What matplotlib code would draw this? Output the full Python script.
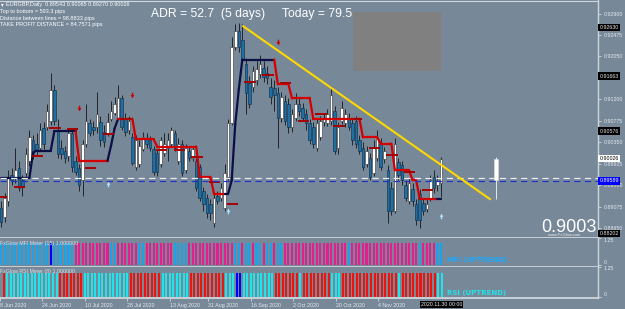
import matplotlib
matplotlib.use('Agg')
import matplotlib.pyplot as plt
from matplotlib.collections import LineCollection
from matplotlib.patches import Rectangle
import matplotlib.transforms as mtrans
import numpy as np

# ---------------- data ----------------
opens = [0.8906, 0.8887, 0.8920, 0.8970, 0.8964, 0.8984, 0.8960, 0.8974, 0.8999, 0.9039,
         0.9033, 0.9025, 0.9063, 0.9065, 0.9078, 0.9138, 0.9059, 0.9025, 0.9019, 0.9009,
         0.9053, 0.8999, 0.8984, 0.8960, 0.9033, 0.9073, 0.9065, 0.9065, 0.9075, 0.9055,
         0.9053, 0.9082, 0.9094, 0.9084, 0.9122, 0.9082, 0.9059, 0.9045, 0.8986, 0.8993,
         0.9023, 0.9043, 0.9039, 0.9023, 0.9015, 0.8993, 0.9015, 0.9025, 0.9033, 0.9053,
         0.8999, 0.9033, 0.8980, 0.9019, 0.9005, 0.8999, 0.8986, 0.8940, 0.8926, 0.8914,
         0.8875, 0.8930, 0.8926, 0.8906, 0.8966, 0.9073, 0.9223, 0.9256, 0.9237, 0.9191,
         0.9152, 0.9144, 0.9158, 0.9171, 0.9183, 0.9173, 0.9144, 0.9142, 0.9132, 0.9084,
         0.9118, 0.9112, 0.9065, 0.9084, 0.9112, 0.9104, 0.9092, 0.9073, 0.9065, 0.9025,
         0.9045, 0.9075, 0.9073, 0.9078, 0.9098, 0.9025, 0.9078, 0.9073, 0.9084, 0.9073,
         0.9078, 0.9039, 0.9025, 0.8993, 0.9005, 0.8974, 0.9005, 0.9033, 0.9003, 0.8980,
         0.8946, 0.8900, 0.8996, 0.8990, 0.8950, 0.8920, 0.8944, 0.8914, 0.8934, 0.8916,
         0.8904, 0.8926, 0.8966, 0.8950, 0.89543]
highs = [0.8920, 0.8936, 0.8980, 0.8984, 0.9025, 0.8999, 0.8970, 0.9025, 0.9059, 0.9049,
         0.9053, 0.9073, 0.9075, 0.9112, 0.9173, 0.9148, 0.9082, 0.9039, 0.9029, 0.9063,
         0.9059, 0.9009, 0.8993, 0.9039, 0.9112, 0.9082, 0.9078, 0.9134, 0.9088, 0.9069,
         0.9094, 0.9118, 0.9124, 0.9148, 0.9128, 0.9094, 0.9088, 0.9053, 0.9049, 0.9039,
         0.9055, 0.9053, 0.9047, 0.9029, 0.9023, 0.9045, 0.9053, 0.9053, 0.9065, 0.9059,
         0.9043, 0.9039, 0.9033, 0.9027, 0.9029, 0.9005, 0.8993, 0.8948, 0.8934, 0.8924,
         0.8934, 0.8940, 0.8954, 0.8993, 0.9082, 0.9243, 0.9270, 0.9272, 0.9270, 0.9203,
         0.9167, 0.9187, 0.9197, 0.9207, 0.9197, 0.9187, 0.9162, 0.9158, 0.9144, 0.9134,
         0.9128, 0.9122, 0.9102, 0.9132, 0.9122, 0.9114, 0.9102, 0.9082, 0.9075, 0.9082,
         0.9088, 0.9094, 0.9102, 0.9144, 0.9108, 0.9075, 0.9118, 0.9102, 0.9094, 0.9082,
         0.9088, 0.9049, 0.9035, 0.9029, 0.9015, 0.9039, 0.9059, 0.9043, 0.9027, 0.8990,
         0.8956, 0.9043, 0.9005, 0.8999, 0.8960, 0.8964, 0.8954, 0.8924, 0.8944, 0.8924,
         0.8924, 0.8970, 0.8980, 0.8970, 0.90065]
lows = [0.8867, 0.8877, 0.8910, 0.8950, 0.8954, 0.8940, 0.8930, 0.8964, 0.8989, 0.9003,
        0.9009, 0.9019, 0.9023, 0.9059, 0.9069, 0.9069, 0.9005, 0.9003, 0.8995, 0.8999,
        0.8976, 0.8970, 0.8940, 0.8930, 0.9027, 0.9047, 0.9049, 0.9053, 0.9029, 0.9027,
        0.9047, 0.9078, 0.9090, 0.9082, 0.9059, 0.9047, 0.9051, 0.8990, 0.8980, 0.8987,
        0.9019, 0.9025, 0.9019, 0.8970, 0.8968, 0.8987, 0.9009, 0.8999, 0.9027, 0.9019,
        0.8993, 0.8968, 0.8974, 0.8999, 0.8999, 0.8940, 0.8920, 0.8900, 0.8885, 0.8881,
        0.8867, 0.8914, 0.8920, 0.8900, 0.8960, 0.9069, 0.9217, 0.9213, 0.9197, 0.9092,
        0.9104, 0.9134, 0.9148, 0.9162, 0.9154, 0.9150, 0.9112, 0.9098, 0.9025, 0.9075,
        0.9069, 0.9053, 0.9055, 0.9078, 0.9088, 0.9078, 0.9059, 0.9033, 0.9025, 0.9019,
        0.9039, 0.9067, 0.9067, 0.9069, 0.9013, 0.9013, 0.9071, 0.9065, 0.9059, 0.9031,
        0.9025, 0.9013, 0.8980, 0.8986, 0.8960, 0.8968, 0.8999, 0.8980, 0.8995, 0.8875,
        0.8891, 0.8895, 0.8960, 0.8950, 0.8920, 0.8914, 0.8910, 0.8871, 0.8865, 0.8891,
        0.8897, 0.8920, 0.8936, 0.8940, 0.89270]
closes = [0.8877, 0.8926, 0.8964, 0.8960, 0.8980, 0.8946, 0.8948, 0.9013, 0.9045, 0.9013,
          0.9019, 0.9059, 0.9033, 0.9098, 0.9138, 0.9078, 0.9013, 0.9013, 0.9005, 0.9053,
          0.8986, 0.8976, 0.8950, 0.9033, 0.9078, 0.9053, 0.9059, 0.9092, 0.9039, 0.9035,
          0.9075, 0.9098, 0.9112, 0.9122, 0.9065, 0.9055, 0.9078, 0.8995, 0.9039, 0.9029,
          0.9045, 0.9033, 0.9025, 0.8976, 0.8976, 0.9039, 0.9033, 0.9039, 0.9059, 0.9025,
          0.9033, 0.8974, 0.9025, 0.9005, 0.9023, 0.8946, 0.8926, 0.8914, 0.8895, 0.8895,
          0.8926, 0.8920, 0.8946, 0.8974, 0.9073, 0.9223, 0.9256, 0.9223, 0.9201, 0.9132,
          0.9112, 0.9177, 0.9181, 0.9191, 0.9164, 0.9162, 0.9124, 0.9128, 0.9084, 0.9124,
          0.9078, 0.9065, 0.9092, 0.9112, 0.9098, 0.9084, 0.9073, 0.9039, 0.9033, 0.9073,
          0.9078, 0.9084, 0.9092, 0.9128, 0.9019, 0.9065, 0.9104, 0.9092, 0.9065, 0.9039,
          0.9033, 0.9019, 0.8986, 0.9019, 0.8966, 0.9025, 0.9045, 0.8986, 0.9019, 0.8900,
          0.8900, 0.9033, 0.8970, 0.8960, 0.8926, 0.8954, 0.8920, 0.8881, 0.8881, 0.8900,
          0.8914, 0.8960, 0.8946, 0.8960, 0.90026]

# trailing-stop step line and its state (U = uptrend / navy, D = downtrend / red)
trail = [0.8965, 0.8965, 0.8965, 0.8965, 0.8965, 0.8965, 0.8965, 0.8965, 0.8965, 0.9015,
         0.9019, 0.9019, 0.9019, 0.9019, 0.9019, 0.9057, 0.9057, 0.9057, 0.9057, 0.9057,
         0.9057, 0.9057, 0.8999, 0.8999, 0.8999, 0.8999, 0.8999, 0.8999, 0.8999, 0.8999,
         0.8999, 0.9029, 0.9063, 0.9082, 0.9082, 0.9082, 0.9082, 0.9082, 0.9041, 0.9041,
         0.9041, 0.9041, 0.9041, 0.9041, 0.9027, 0.9027, 0.9027, 0.9027, 0.9027, 0.9027,
         0.9027, 0.9027, 0.9027, 0.9027, 0.9027, 0.9027, 0.8967, 0.8967, 0.8967, 0.8967,
         0.8934, 0.8934, 0.8934, 0.8934, 0.8934, 0.8960, 0.9071, 0.9140, 0.9199, 0.9199,
         0.9199, 0.9199, 0.9199, 0.9199, 0.9199, 0.9199, 0.9199, 0.9199, 0.9150, 0.9150,
         0.9150, 0.9150, 0.9122, 0.9122, 0.9122, 0.9122, 0.9122, 0.9122, 0.9082, 0.9082,
         0.9082, 0.9082, 0.9082, 0.9082, 0.9082, 0.9082, 0.9082, 0.9082, 0.9082, 0.9082,
         0.9082, 0.9082, 0.9045, 0.9045, 0.9045, 0.9045, 0.9045, 0.9033, 0.9033, 0.9033,
         0.9033, 0.8980, 0.8980, 0.8980, 0.8980, 0.8980, 0.8960, 0.8960, 0.8924, 0.8924,
         0.8924, 0.8924, 0.8924, 0.8924, 0.8924]
trend = ("UUUUUUUUUUUUUUUUUUUUUU" "DDDDDDDDD" "UUU"
         "DDDDDDDDDDDDDDDDDDDDDDDDDDDDDD" "UUUUUUUUUUUUUU"
         "DDDDDDDDDDDDDDDDDDDDDDDDDDDDDDDDDDDDDDDDDDDDDD" "U")

# weekly level segments (start bar, level)
week_bars = [-1, 4, 9, 14, 19, 24, 29, 34, 44, 49, 54, 59, 64, 69, 74, 79, 84, 89, 94, 99,
             104, 109, 114, 119]
week_levels = [0.8928, 0.8948, 0.9009, 0.9063, 0.9061, 0.8984, 0.9051, 0.9082, 0.9021, 0.9021,
               0.9007, 0.8956, 0.8914, 0.9154, 0.9169, 0.9152, 0.9078, 0.9092, 0.9067, 0.9082,
               0.9025, 0.9011, 0.8976, 0.8942]

# signal arrows
down_bars = [22, 37, 78]
down_prices = [0.9104, 0.9128, 0.9233]
up_bars = [30, 64, 124]
up_prices = [0.8952, 0.8899, 0.8889]

# horizontal levels
white_level = 0.8964
blue_level = 0.89589

# trend line
tl_bars = [68, 138]
tl_prices = [0.9266, 0.8922]

# projected daily candle
proj_bar = 139.5
proj_ohlc = [0.8961, 0.9006, 0.8924, 0.9003]

# grey box
box_bars = [99.2, 124.0]
box_prices = [0.9177, 0.9292]

# meters: C = uptrend colour, M/R = downtrend colour, B = strong
mfi_state = ("CCCCCCCCCCCCCC" "B" "CCCCCC" "MMMMMMMMMM" "CC" "MMMMMM" "CC" "MMMMMMMM" "CCCC"
             "MMMMMMMMMMMMM" "CC" "M" "CC" "M" "CC" "M" "CC" "M" "CC"
             "MMMMMMMMMMMMMMMMMM" "C" "MMMMMMMMMMMMMMMMMMM" "C" "MMMM" "CC")
rsi_state = ("R" "CCCCCCCCCCCCCCC" "RRRRRRR" "CCCCCCCCCCCCC" "RRRRRRRRR" "CCCCCCCC"
             "RRRRRRRRRR" "CCC" "BB" "CCCCCCCCC" "RRRRRRR" "C" "RRRRRRRR" "CCC"
             "RRRRRRRRRRRRRRRR" "C" "RRRRRRRRRR" "CC")
meter_value = 1.0

price_ticks = [0.92900, 0.92475, 0.92050, 0.91200, 0.90775, 0.90350, 0.89925,
               0.89500, 0.89075, 0.88650]
date_labels = ['8 Jun 2020', '24 Jun 2020', '10 Jul 2020', '28 Jul 2020', '13 Aug 2020',
               '31 Aug 2020', '16 Sep 2020', '2 Oct 2020', '20 Oct 2020', '4 Nov 2020']
date_bars = [-1, 11, 23, 35, 47, 58, 70, 82, 94, 106]
black_tags = [0.92630, 0.91663, 0.90576]
bottom_tag = '0.88202'
current_tag = 0.90026

# ---------------- figure ----------------
BG = '#778899'
W, H = 625.0, 309.0
fig = plt.figure(figsize=(6.25, 3.09), dpi=100, facecolor=BG)


def box(x0, y0, x1, y1):
    return [x0 / W, 1 - y1 / H, (x1 - x0) / W, (y1 - y0) / H]


ax = fig.add_axes(box(0, 0.5, 597.5, 237.5))
axm = fig.add_axes(box(0, 237.5, 597.5, 266.5))
axr = fig.add_axes(box(0, 266.5, 597.5, 298.0))
XL = (-0.3, 168.1)
SEP = '#cfd5db'
for a in (ax, axm, axr):
    a.set_facecolor(BG)
    a.set_xlim(*XL)
    for s in ('left', 'top'):
        a.spines[s].set_visible(False)
    a.spines['right'].set_color(SEP)
    a.spines['right'].set_linewidth(1.0)
    a.spines['bottom'].set_color(SEP)
    a.spines['bottom'].set_linewidth(1.3)
ax.spines['top'].set_visible(True)
ax.spines['top'].set_color(SEP)
ax.spines['top'].set_linewidth(0.8)

SMALL = 'Liberation Sans'
TICKC = '#e6e9ec'

# ---- main panel ----
n = len(closes)
x = np.arange(n)
o = np.array(opens); h = np.array(highs); l = np.array(lows); c = np.array(closes)
ax.set_ylim(0.88472, 0.93157)
ax.vlines(x, l, h, color='#151515', lw=0.6, zorder=2)
bull = c >= o
ax.bar(x, np.maximum(np.abs(c - o), 0.00004), bottom=np.minimum(o, c), width=0.72,
       color=np.where(bull, '#ffffff', '#1f6fa3'),
       edgecolor=np.where(bull, '#303030', '#0b2a44'), linewidth=0.4, zorder=2.5)

# projected candle
po, ph, pl, pc = proj_ohlc
ax.vlines(proj_bar, pl, ph, color='#e8e8e8', lw=0.7, zorder=2)
ax.bar(proj_bar, pc - po, bottom=po, width=1.1, color='#ffffff', edgecolor='#e0e0e0',
       linewidth=0.4, zorder=2.5)

# trailing line
pts = np.column_stack([x, trail])
segs = [pts[i:i + 2] for i in range(n - 1)]
cols = ['#0a0f45' if trend[i + 1] == 'U' else '#d40000' for i in range(n - 1)]
ax.add_collection(LineCollection(segs, colors=cols, linewidths=1.6, zorder=3,
                                 capstyle='round', joinstyle='round'))

# weekly levels
for b, v in zip(week_bars, week_levels):
    ax.hlines(v, b - 0.4, b + 2.8, color='#a80000', lw=1.4, zorder=3.2)

# dashed levels
ax.axhline(white_level, color='#e8ecf0', lw=0.9, dashes=(5, 3.5), zorder=4)
ax.axhline(blue_level, color='#2236c8', lw=0.9, dashes=(5, 3.5), zorder=4)

# trend line
ax.plot(tl_bars, tl_prices, color='#ffd800', lw=1.5, zorder=4.5, solid_capstyle='butt')

# grey box
ax.add_patch(Rectangle((box_bars[0], box_prices[0]), box_bars[1] - box_bars[0],
                       box_prices[1] - box_prices[0], facecolor='#808080',
                       edgecolor='none', zorder=1.5))

# arrows
down_m = [(-0.25, 1), (0.25, 1), (0.25, 0.15), (0.7, 0.15), (0, -1), (-0.7, 0.15), (-0.25, 0.15)]
up_m = [(vx, -vy) for vx, vy in down_m]
ax.scatter(down_bars, down_prices, marker=down_m, s=16, color='#c80000', zorder=5,
           linewidths=0)
ax.scatter(up_bars, up_prices, marker=up_m, s=16, color='#aee3ff', zorder=5, linewidths=0)

# right axis
ax.yaxis.tick_right()
ax.set_yticks(price_ticks)
ax.set_yticklabels([f'{v:.5f}' for v in price_ticks], fontfamily=SMALL)
ax.tick_params(axis='y', labelsize=3.8, labelcolor=TICKC, color=TICKC, length=2.2,
               width=0.5, pad=2.5)
ax.set_xticks([])

tr = mtrans.blended_transform_factory(ax.transAxes, ax.transData)
for v in black_tags:
    ax.text(1.003, v, f'{v:.5f}', transform=tr, fontsize=3.8, family=SMALL, color='#e8e8e8',
            va='center', ha='left', zorder=10, clip_on=False,
            bbox=dict(facecolor='#000000', edgecolor='none', pad=0.8))
ax.text(1.003, current_tag, f'{current_tag:.5f}', transform=tr, fontsize=3.8, family=SMALL,
        color='#000000', va='center', ha='left', zorder=10, clip_on=False,
        bbox=dict(facecolor='#ffffff', edgecolor='none', pad=0.8))
ax.text(1.003, blue_level, f'{blue_level:.5f}', transform=tr, fontsize=3.8, family=SMALL,
        color='#ffffff', va='center', ha='left', zorder=10, clip_on=False,
        bbox=dict(facecolor='#0000ff', edgecolor='none', pad=0.8))
ax.text(1.003, 0.017, bottom_tag, transform=ax.transAxes, fontsize=3.8, family=SMALL,
        color='#e8e8e8', va='center', ha='left', zorder=10, clip_on=False,
        bbox=dict(facecolor='#000000', edgecolor='none', pad=0.8))

# header texts
fig.text(1 / W, 1 - 4.5 / H, '\u25be', fontsize=4, color='white', va='center', ha='left',
         family='DejaVu Sans')
fig.text(5.5 / W, 1 - 4.8 / H, 'EURGBP,Daily  0.89543 0.90065 0.89270 0.90026', fontsize=4.0,
         color='white', va='center', ha='left', family=SMALL)
fig.text(0.5 / W, 1 - 11.6 / H, 'Top to bottom = 593.3 pips', fontsize=4.0, color='white',
         va='center', ha='left', family=SMALL)
fig.text(0.5 / W, 1 - 18.2 / H, 'Distance between lines = 98.8833 pips', fontsize=4.0,
         color='white', va='center', ha='left', family=SMALL)
fig.text(0.5 / W, 1 - 24.8 / H, 'TAKE PROFIT DISTANCE = 84.7571 pips', fontsize=4.0,
         color='white', va='center', ha='left', family=SMALL)
fig.text(151 / W, 1 - 13.5 / H, 'ADR = 52.7  (5 days)', fontsize=8.7, color='white',
         va='center', ha='left', family=SMALL)
fig.text(282 / W, 1 - 13.5 / H, 'Today = 79.5', fontsize=8.7, color='white',
         va='center', ha='left', family=SMALL)
fig.text(597 / W, 1 - 231.5 / H, '0.9003', fontsize=13, color='white', va='baseline',
         ha='right', family=SMALL, zorder=6)
fig.text(548 / W, 1 - 234.8 / H, 'www.FxGlow.com', fontsize=3.0, color='#f0f0f0',
         va='center', ha='left', family=SMALL)

# ---- meters ----
mcol = {'C': '#1ea2e6', 'M': '#e0208c', 'B': '#0000ff'}
rcol = {'C': '#22e2ea', 'R': '#e8160f', 'B': '#0000ff'}
vals = [meter_value] * n
axm.bar(x, vals, width=0.58, color=[mcol[s] for s in mfi_state], linewidth=0, zorder=2)
axr.bar(x, vals, width=0.58, color=[rcol[s] for s in rsi_state], linewidth=0, zorder=2)
axm.set_ylim(-0.05, 1.25)
axr.set_ylim(-0.04, 1.25)
for a in (axm, axr):
    a.yaxis.tick_right()
    a.set_yticks([0, 1.25])
    a.set_yticklabels(['0', '1.25'], fontfamily=SMALL)
    a.tick_params(axis='y', labelsize=3.8, labelcolor=TICKC, color=TICKC, length=2.2,
                  width=0.5, pad=2.5)
    for lab in a.get_yticklabels():
        lab.set_va('top' if lab.get_text() == '1.25' else 'bottom')
axm.set_xticks([])
axm.text(0.0, 0.8, 'FxGlow MFI Meter (15) 1.000000', transform=axm.transAxes,
         fontsize=3.8, family=SMALL, color='#dde2e6', va='center', ha='left', zorder=5)
axr.text(0.0, 0.84, 'FxGlow RSI Meter (8) 1.000000', transform=axr.transAxes,
         fontsize=3.8, family=SMALL, color='#dde2e6', va='center', ha='left', zorder=5)
axm.text(447 / 597.5, 0.22, 'MFI (UPTREND)', transform=axm.transAxes, fontsize=5.0,
         fontweight='bold', color='#19aaff', va='center', ha='left', family='DejaVu Sans',
         zorder=6)
axr.text(447 / 597.5, 0.17, 'RSI (UPTREND)', transform=axr.transAxes, fontsize=5.0,
         fontweight='bold', color='#22e2ea', va='center', ha='left', family='DejaVu Sans',
         zorder=6)

# date axis
axr.set_xticks(date_bars)
axr.set_xticklabels(date_labels, fontfamily=SMALL)
axr.tick_params(axis='x', labelsize=3.8, labelcolor=TICKC, color=TICKC, length=2,
                width=0.5, pad=1.5)
for lab in axr.get_xticklabels():
    lab.set_ha('left')
axr.text(124, -0.2, '2020.11.30 00:00', transform=mtrans.blended_transform_factory(
    axr.transData, axr.transAxes), fontsize=3.8, family=SMALL, color='#f0f0f0',
    va='center', ha='center', zorder=10, clip_on=False,
    bbox=dict(facecolor='#000000', edgecolor='none', pad=0.8))

fig.savefig('out.png', dpi=100, facecolor=BG)
